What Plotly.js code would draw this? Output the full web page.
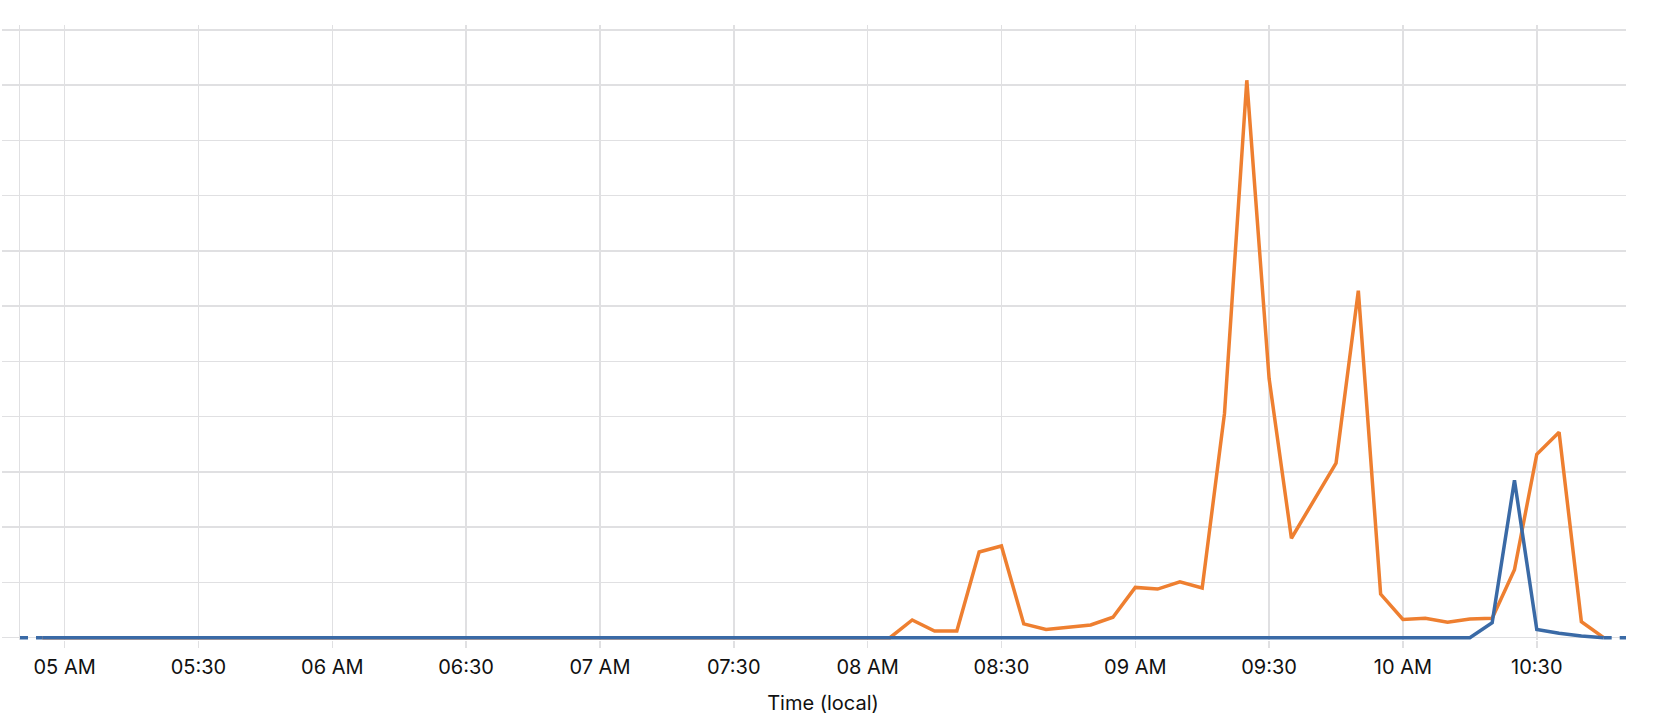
<!DOCTYPE html>
<html>
<head>
<meta charset="utf-8">
<script src="https://cdn.plot.ly/plotly-3.0.1.min.js"></script>
<style>
  html, body { margin: 0; padding: 0; background: #ffffff; }
  #chart { width: 1662px; height: 722px; }
</style>
</head>
<body>
<div id="chart"></div>
<script>
const day = '2024-05-01 ';

const times = [
  '04:55',
  '05:00','05:05','05:10','05:15','05:20','05:25','05:30','05:35','05:40','05:45','05:50','05:55',
  '06:00','06:05','06:10','06:15','06:20','06:25','06:30','06:35','06:40','06:45','06:50','06:55',
  '07:00','07:05','07:10','07:15','07:20','07:25','07:30','07:35','07:40','07:45','07:50','07:55',
  '08:00','08:05','08:10','08:15','08:20','08:25','08:30','08:35','08:40','08:45','08:50','08:55',
  '09:00','09:05','09:10','09:15','09:20','09:25','09:30','09:35','09:40','09:45','09:50','09:55',
  '10:00','10:05','10:10','10:15','10:20','10:25','10:30','10:35','10:40','10:45'
];

const orangeValues = [
  0,
  0,0,0,0,0,0,0,0,0,0,0,0,
  0,0,0,0,0,0,0,0,0,0,0,0,
  0,0,0,0,0,0,0,0,0,0,0,0,
  0,0,0.32,0.12,0.12,1.55,1.66,0.25,0.15,0.19,0.23,0.37,
  0.91,0.88,1.01,0.90,4.06,10.09,4.69,1.80,2.48,3.16,6.28,0.79,
  0.33,0.35,0.28,0.34,0.35,1.23,3.32,3.72,0.29,0
];

const blueValues = [
  0,
  0,0,0,0,0,0,0,0,0,0,0,0,
  0,0,0,0,0,0,0,0,0,0,0,0,
  0,0,0,0,0,0,0,0,0,0,0,0,
  0,0,0,0,0,0,0,0,0,0,0,0,
  0,0,0,0,0,0,0,0,0,0,0,0,
  0,0,0,0,0.27,2.85,0.15,0.08,0.03,0
];

const rangeStart = '04:50';
const rangeEnd = '10:50';

const tickTimes = ['05:00','05:30','06:00','06:30','07:00','07:30','08:00','08:30','09:00','09:30','10:00','10:30'];
const tickLabels = ['05 AM','05:30','06 AM','06:30','07 AM','07:30','08 AM','08:30','09 AM','09:30','10 AM','10:30'];

const orangeColor = '#ee7f30';
const blueColor = '#3a6aa6';
const gridColor = '#e0e0e2';

const x = times.map(t => day + t);

const traces = [
  {
    x: x, y: orangeValues, type: 'scatter', mode: 'lines',
    line: { color: orangeColor, width: 3.5 }, hoverinfo: 'skip', showlegend: false
  },
  {
    x: [day + rangeStart, x[0]], y: [blueValues[0], blueValues[0]],
    type: 'scatter', mode: 'lines',
    line: { color: blueColor, width: 3.5, dash: '8px,8px' }, hoverinfo: 'skip', showlegend: false
  },
  {
    x: [x[x.length - 1], day + rangeEnd], y: [blueValues[blueValues.length - 1], blueValues[blueValues.length - 1]],
    type: 'scatter', mode: 'lines',
    line: { color: blueColor, width: 3.5, dash: '8px,8px' }, hoverinfo: 'skip', showlegend: false
  },
  {
    x: x, y: blueValues, type: 'scatter', mode: 'lines',
    line: { color: blueColor, width: 3.5 }, hoverinfo: 'skip', showlegend: false
  }
];

const layout = {
  width: 1662, height: 722,
  margin: { l: 20, r: 36, t: 25, b: 82 },
  paper_bgcolor: '#ffffff', plot_bgcolor: '#ffffff',
  font: { family: 'Inter, "Noto Sans", sans-serif', size: 20, color: '#111111' },
  showlegend: false,
  xaxis: {
    type: 'date',
    range: [day + rangeStart, day + rangeEnd],
    tickmode: 'array',
    tickvals: tickTimes.map(t => day + t),
    ticktext: tickLabels,
    showgrid: true, gridcolor: gridColor, gridwidth: 1.5,
    ticks: 'outside', ticklen: 7, tickcolor: gridColor, tickwidth: 1.5,
    ticklabelstandoff: 2,
    showline: false, zeroline: false,
    tickfont: { size: 20, color: '#111111' },
    title: { text: 'Time (local)', font: { size: 20, color: '#111111' }, standoff: 17 }
  },
  yaxis: {
    range: [-0.042, 11.09],
    tickmode: 'linear', tick0: 0, dtick: 1,
    showticklabels: false,
    showgrid: true, gridcolor: gridColor, gridwidth: 1.5,
    ticks: 'outside', ticklen: 17, tickcolor: gridColor, tickwidth: 1.5,
    showline: true, linecolor: gridColor, linewidth: 1.5,
    zeroline: false
  }
};

Plotly.newPlot('chart', traces, layout, { displayModeBar: false, staticPlot: true });
</script>
</body>
</html>
